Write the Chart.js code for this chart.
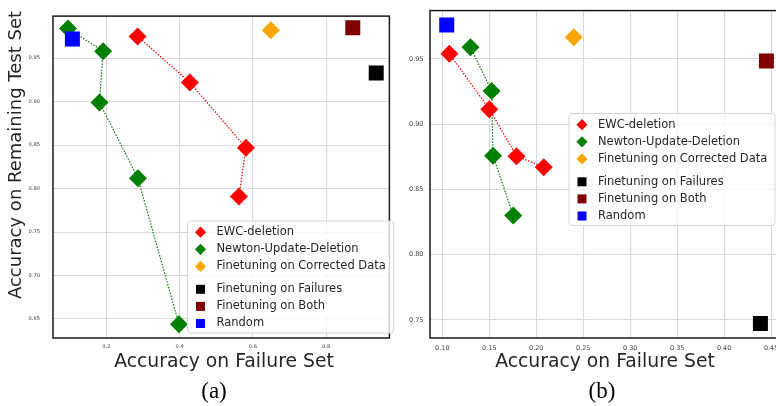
<!DOCTYPE html>
<html>
<head>
<meta charset="utf-8">
<script src="https://cdn.jsdelivr.net/npm/chart.js@4.4.1/dist/chart.umd.min.js"></script>
<style>
  html, body { margin: 0; padding: 0; background: #ffffff; overflow: hidden; width: 776px; height: 406px; }
  .panel { position: absolute; top: 0; }
  #pa { left: 0; }
  #pb { left: 400px; }
</style>
</head>
<body>
<div class="panel" id="pa"><canvas id="ca" width="400" height="406"></canvas></div>
<div class="panel" id="pb"><canvas id="cb" width="390" height="406"></canvas></div>
<script>
// Series shown in both panels (legend order)
const seriesNames = [
  'EWC-deletion',
  'Newton-Update-Deletion',
  'Finetuning on Corrected Data',
  'Finetuning on Failures',
  'Finetuning on Both',
  'Random'
];
const seriesColors = ['#ff0000', '#008000', '#ffa500', '#000000', '#800000', '#0000ff'];
const seriesShapes = ['rectRot', 'rectRot', 'rectRot', 'rect', 'rect', 'rect'];

// Panel (a): accuracy on failure set (x) vs accuracy on remaining test set (y)
const ewcFailA = [0.285, 0.428, 0.581, 0.562];
const ewcRemainA = [0.975, 0.922, 0.847, 0.791];
const newtonFailA = [0.095, 0.191, 0.181, 0.286, 0.398];
const newtonRemainA = [0.984, 0.958, 0.899, 0.812, 0.644];
// baselines: corrected data, failures, both, random
const baseFailA = [0.649, 0.937, 0.873, 0.107];
const baseRemainA = [0.982, 0.933, 0.985, 0.972];

// Panel (b)
const ewcFailB = [0.1075, 0.150, 0.179, 0.208];
const ewcRemainB = [0.954, 0.9115, 0.8755, 0.867];
const newtonFailB = [0.130, 0.1525, 0.154, 0.1755];
const newtonRemainB = [0.959, 0.9255, 0.8757, 0.830];
const baseFailB = [0.240, 0.4386, 0.445, 0.1047];
const baseRemainB = [0.9667, 0.7473, 0.9485, 0.976];

// Tick values
const xTicksA = [0.2, 0.4, 0.6, 0.8];
const yTicksA = [0.65, 0.70, 0.75, 0.80, 0.85, 0.90, 0.95];
const xTicksB = [0.10, 0.15, 0.20, 0.25, 0.30, 0.35, 0.40, 0.45];
const yTicksB = [0.75, 0.80, 0.85, 0.90, 0.95];

const xTitle = 'Accuracy on Failure Set';
const yTitle = 'Accuracy on Remaining Test Set';

const pts = (xs, ys) => xs.map((x, i) => ({ x: x, y: ys[i] }));

function buildDatasets(ewcX, ewcY, nX, nY, bX, bY) {
  const lineSeries = (idx, data, order) => ({
    label: seriesNames[idx],
    data: data,
    showLine: true,
    borderColor: seriesColors[idx],
    backgroundColor: seriesColors[idx],
    borderWidth: 1.2,
    borderDash: [1.5, 1.5],
    pointStyle: seriesShapes[idx],
    pointRadius: 9,
    pointBorderWidth: 0,
    pointBackgroundColor: seriesColors[idx],
    order: order
  });
  const ds = [
    lineSeries(0, pts(ewcX, ewcY), 5),
    lineSeries(1, pts(nX, nY), 6)
  ];
  for (let k = 0; k < 4; k++) {
    const idx = k + 2;
    ds.push({
      label: seriesNames[idx],
      data: [{ x: bX[k], y: bY[k] }],
      showLine: false,
      backgroundColor: seriesColors[idx],
      borderColor: seriesColors[idx],
      pointStyle: seriesShapes[idx],
      pointRadius: seriesShapes[idx] === 'rect' ? 10.6 : 9,
      pointBorderWidth: 0,
      order: 4 - k
    });
  }
  return ds;
}

// Frame, grouped legend and free-standing labels
const overlay = {
  id: 'overlay',
  afterDraw(chart, args, opts) {
    const ctx = chart.ctx;
    const a = chart.chartArea;
    ctx.save();
    ctx.strokeStyle = '#1a1a1a';
    ctx.lineWidth = 1.5;
    ctx.strokeRect(a.left, a.top, a.right - a.left, a.bottom - a.top);

    const L = opts.legend;
    ctx.beginPath();
    ctx.roundRect(L.x, L.y, L.w, L.h, 3);
    ctx.fillStyle = 'rgba(255,255,255,0.8)';
    ctx.fill();
    ctx.strokeStyle = '#d6d6d6';
    ctx.lineWidth = 1;
    ctx.stroke();
    ctx.font = '11.5px "DejaVu Sans"';
    ctx.textBaseline = 'middle';
    ctx.textAlign = 'left';
    chart.data.datasets.forEach((d, i) => {
      const cy = L.y + L.rowTop + i * L.row + (i >= 3 ? L.gap : 0);
      const cx = L.x + L.markX;
      ctx.fillStyle = d.backgroundColor;
      ctx.beginPath();
      if (d.pointStyle === 'rectRot') {
        const r = 5.6;
        ctx.moveTo(cx - r, cy); ctx.lineTo(cx, cy - r); ctx.lineTo(cx + r, cy); ctx.lineTo(cx, cy + r);
        ctx.closePath();
      } else {
        ctx.rect(cx - 4.5, cy - 4.5, 9, 9);
      }
      ctx.fill();
      ctx.fillStyle = '#262626';
      ctx.fillText(d.label, L.x + L.textX, cy);
    });

    for (const t of opts.texts) {
      ctx.save();
      ctx.translate(t.x, t.y);
      if (t.rot) ctx.rotate(t.rot);
      ctx.font = t.font;
      ctx.fillStyle = t.color;
      ctx.textAlign = 'center';
      ctx.textBaseline = 'middle';
      ctx.fillText(t.text, 0, 0);
      ctx.restore();
    }
    ctx.restore();
  }
};

function makeChart(canvasId, cfg) {
  return new Chart(document.getElementById(canvasId), {
    type: 'scatter',
    data: { datasets: cfg.datasets },
    options: {
      responsive: false,
      animation: false,
      events: [],
      layout: { padding: cfg.padding },
      scales: {
        x: {
          type: 'linear',
          min: cfg.xMin, max: cfg.xMax,
          afterBuildTicks: s => { s.ticks = cfg.xTicks.map(v => ({ value: v })); },
          afterFit: s => { s.height = 20; },
          grid: { color: '#d9d9d9', lineWidth: 1.1, drawTicks: false },
          border: { display: false },
          ticks: {
            padding: cfg.xPad,
            color: '#444444',
            font: { family: 'DejaVu Sans', size: cfg.tickSize },
            maxRotation: 0,
            callback: v => v.toFixed(cfg.xDigits)
          }
        },
        y: {
          type: 'linear',
          min: cfg.yMin, max: cfg.yMax,
          afterBuildTicks: s => { s.ticks = cfg.yTicks.map(v => ({ value: v })); },
          afterFit: s => { s.width = cfg.yWidth; },
          grid: { color: '#d9d9d9', lineWidth: 1.1, drawTicks: false },
          border: { display: false },
          ticks: {
            padding: cfg.yPad,
            color: '#444444',
            font: { family: 'DejaVu Sans', size: cfg.tickSize },
            callback: v => v.toFixed(2)
          }
        }
      },
      plugins: {
        legend: { display: false },
        tooltip: { enabled: false },
        overlay: { legend: cfg.legend, texts: cfg.texts }
      }
    },
    plugins: [overlay]
  });
}

const legendBox = { w: 206, h: 112, rowTop: 11.2, row: 17.1, gap: 5.8, markX: 13, textX: 29 };

makeChart('ca', {
  datasets: buildDatasets(ewcFailA, ewcRemainA, newtonFailA, newtonRemainA, baseFailA, baseRemainA),
  padding: { left: 0, right: 4, top: 3, bottom: 48 },
  xMin: 0.054, xMax: 0.973, yMin: 0.6282, yMax: 0.9983,
  xTicks: xTicksA, yTicks: yTicksA, xDigits: 1,
  yWidth: 53, yPad: 13, xPad: 6, tickSize: 5.2,
  legend: Object.assign({ x: 187.5, y: 221 }, legendBox),
  texts: [
    { text: yTitle, x: 16, y: 155, rot: -Math.PI / 2, font: '18px "DejaVu Sans"', color: '#262626' },
    { text: xTitle, x: 224, y: 362.5, font: '18.8px "DejaVu Sans"', color: '#262626' },
    { text: '(a)', x: 214, y: 392, font: '23px "Liberation Serif"', color: '#000000' }
  ]
});

makeChart('cb', {
  datasets: buildDatasets(ewcFailB, ewcRemainB, newtonFailB, newtonRemainB, baseFailB, baseRemainB),
  padding: { left: 0, right: 10, top: 1, bottom: 48 },
  xMin: 0.0869, xMax: 0.4588, yMin: 0.7361, yMax: 0.98705,
  xTicks: xTicksB, yTicks: yTicksB, xDigits: 2,
  yWidth: 30, yPad: 6.5, xPad: 6, tickSize: 6.5,
  legend: Object.assign({ x: 169, y: 113.5 }, legendBox),
  texts: [
    { text: xTitle, x: 205, y: 362, font: '18.8px "DejaVu Sans"', color: '#262626' },
    { text: '(b)', x: 202, y: 392, font: '23px "Liberation Serif"', color: '#000000' }
  ]
});
</script>
</body>
</html>
